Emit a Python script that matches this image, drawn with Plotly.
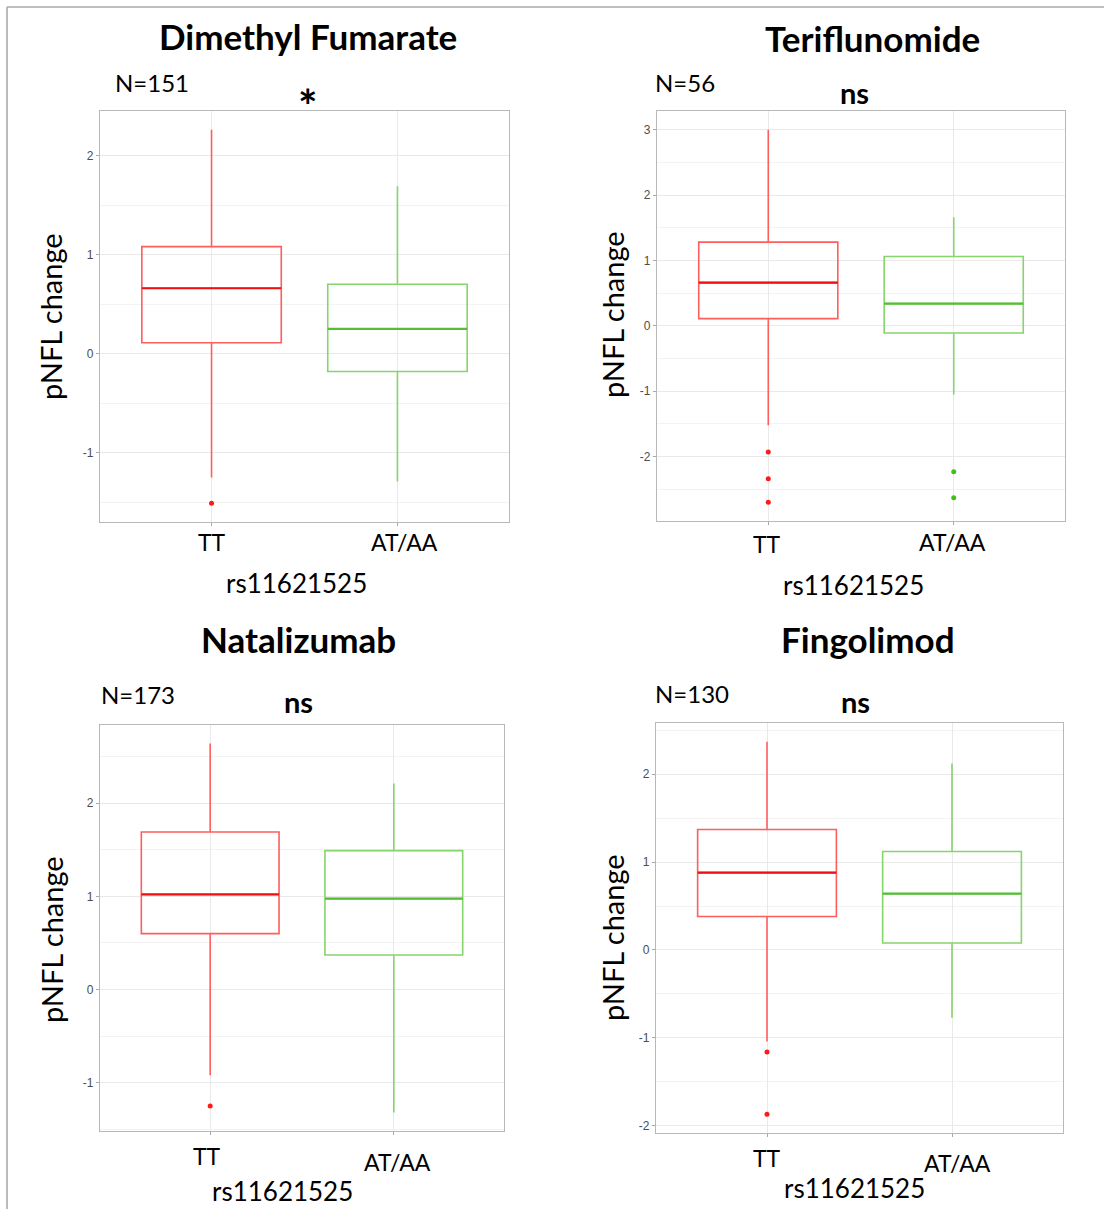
import math
import plotly.graph_objects as go

# ---- data -------------------------------------------------------------
panels = ["Dimethyl Fumarate", "Teriflunomide", "Natalizumab", "Fingolimod"]
n_labels = ["N=151", "N=56", "N=173", "N=130"]
sig_labels = ["*", "ns", "ns", "ns"]
genotypes = ["TT", "AT/AA"]
snp_label = "rs11621525"
y_label = "pNFL change"

# TT genotype box statistics per panel
tt_lower = [-1.25, -1.52, -0.92, -1.04]
tt_q1 = [0.11, 0.11, 0.60, 0.38]
tt_median = [0.66, 0.66, 1.02, 0.88]
tt_q3 = [1.08, 1.28, 1.69, 1.37]
tt_upper = [2.26, 3.00, 2.64, 2.37]
tt_outliers = [[-1.51], [-1.93, -2.34, -2.70], [-1.25], [-1.16, -1.87]]

# AT/AA genotype box statistics per panel
at_lower = [-1.29, -1.05, -1.32, -0.77]
at_q1 = [-0.18, -0.11, 0.37, 0.08]
at_median = [0.25, 0.34, 0.975, 0.64]
at_q3 = [0.70, 1.06, 1.49, 1.12]
at_upper = [1.69, 1.66, 2.21, 2.12]
at_outliers = [[], [-2.23, -2.63], [], []]

# ---- layout geometry (pixels) ------------------------------------------
W, H = 1104, 1209
panel_px = [(100, 509, 111, 522), (657, 1065, 111, 521),
            (100, 504, 725, 1131), (656, 1063, 723, 1133)]
title_pos = [(308, 36), (872, 38), (298, 639), (868, 639)]
n_pos = [(113, 83), (653, 83), (99, 694), (653, 693)]
sig_pos = [(308, 105), (854, 93), (298, 701), (855, 701)]
ytitle_pos = [(51, 317), (612, 315), (51, 940), (612, 938)]
tt_lab_pos = [(212, 542), (767, 544), (207, 1156), (767, 1158)]
at_lab_pos = [(404, 542), (952, 542), (397, 1162), (957, 1163)]
rs_pos = [(296, 583), (853, 585), (283, 1191), (854, 1188)]


def fx(p):
    return p / W


def fy(p):
    return 1 - p / H


RED_BOX, RED_MED, RED_PT = "#ff5e5e", "#f01010", "#ff1a1a"
GRN_BOX, GRN_MED, GRN_PT = "#86d46c", "#55be36", "#3cc21a"
BOX_W = 0.75
TEXT_FONT = "Lato"

fig = go.Figure()
annotations = []
layout_axes = {}


def ann(text, pos, size, bold=False, xanchor="center", angle=0):
    annotations.append(dict(
        text=f"<b>{text}</b>" if bold else text,
        x=fx(pos[0]), y=fy(pos[1]), xref="paper", yref="paper",
        xanchor=xanchor, yanchor="middle", showarrow=False,
        textangle=angle,
        font=dict(family=TEXT_FONT, size=size, color="#000000")))


for i in range(4):
    sfx = "" if i == 0 else str(i + 1)
    xa, ya = "x" + sfx, "y" + sfx
    groups = [
        (0, tt_lower[i], tt_q1[i], tt_median[i], tt_q3[i], tt_upper[i],
         tt_outliers[i], RED_BOX, RED_MED, RED_PT),
        (1, at_lower[i], at_q1[i], at_median[i], at_q3[i], at_upper[i],
         at_outliers[i], GRN_BOX, GRN_MED, GRN_PT),
    ]
    all_vals = []
    for (xpos, lo, q1, med, q3, hi, outs, cbox, cmed, cpt) in groups:
        all_vals += [lo, hi] + list(outs)
        fig.add_trace(go.Box(
            x=[xpos], lowerfence=[lo], q1=[q1], median=[med], q3=[q3],
            upperfence=[hi], width=BOX_W, whiskerwidth=0,
            line=dict(color=cbox, width=1.6), fillcolor="rgba(255,255,255,0)",
            boxpoints=False, showlegend=False, hoverinfo="skip",
            xaxis=xa, yaxis=ya))
        # thicker median bar
        fig.add_trace(go.Scatter(
            x=[xpos - BOX_W / 2, xpos + BOX_W / 2], y=[med, med],
            mode="lines", line=dict(color=cmed, width=2.2),
            showlegend=False, hoverinfo="skip", xaxis=xa, yaxis=ya))
        if outs:
            fig.add_trace(go.Scatter(
                x=[xpos] * len(outs), y=outs, mode="markers",
                marker=dict(color=cpt, size=5), showlegend=False,
                hoverinfo="skip", xaxis=xa, yaxis=ya))

    # 5% padding around the data, like ggplot's default expansion
    lo_all, hi_all = min(all_vals), max(all_vals)
    pad = 0.05 * (hi_all - lo_all)
    ymin, ymax = lo_all - pad, hi_all + pad
    tick_vals = list(range(math.ceil(ymin), math.floor(ymax) + 1))
    tick_text = [str(v) for v in tick_vals]  # plain hyphen minus
    x0, x1, y0, y1 = panel_px[i]

    axis_common = dict(
        showline=True, mirror=True, linecolor="#b8b8b8", linewidth=1.3,
        ticks="outside", ticklen=3, tickcolor="#a8a8a8", tickwidth=1,
        showgrid=True, gridcolor="#e9e9e9", gridwidth=1, zeroline=False,
    )
    layout_axes["xaxis" + sfx] = dict(
        axis_common, domain=[fx(x0), fx(x1)], anchor=ya,
        range=[-0.6, 1.6], tickvals=[0, 1], showticklabels=False)
    layout_axes["yaxis" + sfx] = dict(
        axis_common, domain=[fy(y1), fy(y0)], anchor=xa,
        range=[ymin, ymax], tickvals=tick_vals, ticktext=tick_text,
        tickfont=dict(family="Liberation Sans", size=12, color="#4d4d4d"),
        minor=dict(dtick=0.5, tick0=0, showgrid=True, gridcolor="#f3f3f3",
                   ticks=""))

    ann(panels[i], title_pos[i], 35, bold=True)
    ann(n_labels[i], n_pos[i], 24, xanchor="left")
    ann(sig_labels[i], sig_pos[i], 46 if sig_labels[i] == "*" else 29,
        bold=True)
    ann(y_label, ytitle_pos[i], 29, angle=-90)
    ann(genotypes[0], tt_lab_pos[i], 23)
    ann(genotypes[1], at_lab_pos[i], 23)
    ann(snp_label, rs_pos[i], 26)

# outer frame lines (left and top)
shapes = [
    dict(type="line", xref="paper", yref="paper", x0=fx(7), x1=1.0,
         y0=fy(7), y1=fy(7), line=dict(color="#aaaaaa", width=1.6)),
    dict(type="line", xref="paper", yref="paper", x0=fx(7), x1=fx(7),
         y0=fy(7), y1=0, line=dict(color="#aaaaaa", width=1.6)),
]

fig.update_layout(
    width=W, height=H, margin=dict(l=0, r=0, t=0, b=0),
    paper_bgcolor="white", plot_bgcolor="white",
    annotations=annotations, shapes=shapes, **layout_axes)

fig.write_html("out.html")
